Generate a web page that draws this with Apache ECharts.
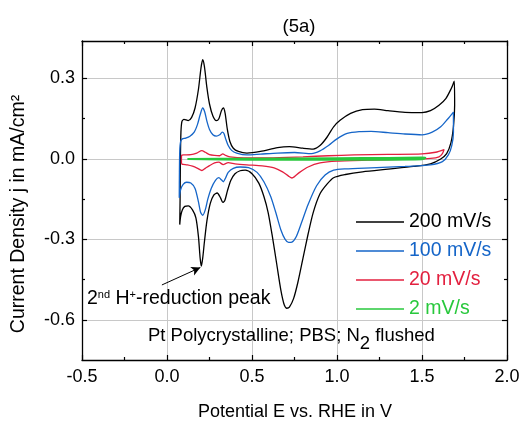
<!DOCTYPE html>
<html>
<head>
<meta charset="utf-8">
<script src="https://cdn.jsdelivr.net/npm/echarts@6/dist/echarts.min.js"></script>
<style>html,body{margin:0;padding:0;background:#fff}#c{width:529px;height:424px}</style>
</head>
<body>
<div id="c"></div>
<script>
// ---- data ----
const seriesNames = ['200 mV/s', '100 mV/s', '20 mV/s', '2 mV/s'];
const xTicks = [-0.5, 0.0, 0.5, 1.0, 1.5, 2.0];
const yTicks = [-0.6, -0.3, 0.0, 0.3];

// 200 mV/s (anodic then cathodic)
const E_200 = [0.075,0.077,0.079,0.082,0.088,0.10,0.125,0.145,0.165,0.185,0.20,0.21,0.22,0.235,0.25,0.27,0.29,0.305,0.32,0.332,0.342,0.355,0.37,0.39,0.42,0.47,0.55,0.65,0.72,0.80,0.86,0.90,0.94,0.98,1.02,1.08,1.15,1.22,1.30,1.40,1.50,1.55,1.60,1.64,1.67,1.69,
  1.692,1.685,1.67,1.645,1.61,1.55,1.45,1.30,1.15,1.05,0.98,0.94,0.90,0.86,0.83,0.80,0.77,0.745,0.72,0.705,0.69,0.67,0.645,0.62,0.595,0.57,0.54,0.50,0.46,0.43,0.40,0.375,0.355,0.34,0.328,0.315,0.295,0.275,0.255,0.235,0.22,0.21,0.202,0.195,0.185,0.17,0.15,0.125,0.105,0.09,0.08,0.075];
const j_200 = [-0.245,-0.15,0.0,0.10,0.14,0.148,0.143,0.155,0.19,0.26,0.34,0.37,0.345,0.265,0.205,0.16,0.143,0.15,0.18,0.19,0.17,0.11,0.065,0.04,0.028,0.022,0.028,0.042,0.046,0.04,0.037,0.05,0.08,0.12,0.145,0.17,0.184,0.186,0.18,0.174,0.173,0.18,0.20,0.225,0.26,0.29,
  0.20,0.12,0.06,0.02,0.0,-0.018,-0.028,-0.038,-0.048,-0.058,-0.07,-0.095,-0.13,-0.20,-0.28,-0.37,-0.46,-0.52,-0.553,-0.557,-0.545,-0.49,-0.39,-0.29,-0.20,-0.14,-0.09,-0.055,-0.042,-0.044,-0.055,-0.08,-0.12,-0.155,-0.162,-0.145,-0.127,-0.135,-0.165,-0.23,-0.31,-0.37,-0.40,-0.37,-0.29,-0.22,-0.19,-0.175,-0.177,-0.19,-0.215,-0.245];

// 100 mV/s
const E_100 = [0.072,0.073,0.075,0.08,0.09,0.11,0.135,0.16,0.18,0.195,0.21,0.222,0.235,0.25,0.27,0.29,0.31,0.325,0.335,0.345,0.36,0.38,0.41,0.47,0.55,0.65,0.75,0.85,0.90,0.95,1.0,1.06,1.13,1.2,1.3,1.4,1.5,1.56,1.61,1.65,1.685,
  1.685,1.675,1.655,1.62,1.55,1.4,1.2,1.05,0.98,0.93,0.88,0.83,0.79,0.76,0.735,0.715,0.695,0.67,0.64,0.61,0.57,0.53,0.48,0.43,0.39,0.36,0.345,0.332,0.32,0.305,0.285,0.26,0.24,0.225,0.21,0.198,0.185,0.165,0.14,0.115,0.095,0.08,0.072];
const j_100 = [-0.145,-0.05,0.03,0.065,0.075,0.078,0.085,0.10,0.13,0.165,0.19,0.175,0.14,0.11,0.09,0.085,0.09,0.10,0.095,0.075,0.05,0.032,0.022,0.015,0.018,0.022,0.024,0.02,0.03,0.05,0.075,0.095,0.102,0.103,0.098,0.093,0.09,0.10,0.12,0.148,0.175,
  0.10,0.05,0.015,-0.01,-0.022,-0.028,-0.033,-0.037,-0.042,-0.06,-0.10,-0.17,-0.24,-0.29,-0.31,-0.311,-0.30,-0.265,-0.20,-0.14,-0.085,-0.05,-0.032,-0.03,-0.035,-0.05,-0.07,-0.085,-0.078,-0.07,-0.08,-0.11,-0.15,-0.19,-0.21,-0.20,-0.16,-0.11,-0.09,-0.087,-0.095,-0.115,-0.145];

// 20 mV/s
const E_20 = [0.085,0.085,0.086,0.10,0.14,0.175,0.205,0.225,0.25,0.28,0.31,0.328,0.345,0.37,0.45,0.60,0.80,0.95,1.10,1.30,1.50,1.58,1.63,
  1.62,1.60,1.55,1.45,1.20,1.00,0.90,0.83,0.78,0.75,0.735,0.715,0.68,0.63,0.56,0.47,0.40,0.36,0.33,0.305,0.28,0.25,0.225,0.205,0.18,0.15,0.12,0.095,0.085];
const j_20 = [-0.018,0.0,0.014,0.015,0.016,0.022,0.031,0.025,0.016,0.013,0.012,0.019,0.013,0.008,0.004,0.004,0.008,0.012,0.015,0.017,0.019,0.025,0.035,
  0.02,0.008,0.002,-0.001,-0.004,-0.008,-0.015,-0.03,-0.05,-0.066,-0.071,-0.064,-0.048,-0.033,-0.026,-0.022,-0.018,-0.014,-0.021,-0.012,-0.015,-0.025,-0.035,-0.043,-0.035,-0.027,-0.022,-0.02,-0.018];

// 2 mV/s
const E_2 = [0.12,0.5,1.0,1.3,1.5,1.52,1.5,1.0,0.5,0.12];
const j_2 = [0.0,0.001,0.003,0.004,0.005,0.004,-0.001,-0.003,-0.003,0.0];

// ---- build ----
const FONT = 'Liberation Sans, Arial, sans-serif';
const colors = ['#000000', '#1565c8', '#e3203f', '#28c83c'];
const zip = (a, b) => a.map((v, i) => [v, b[i]]);
const loops = [zip(E_200, j_200), zip(E_100, j_100), zip(E_20, j_20), zip(E_2, j_2)];

const chart = echarts.init(document.getElementById('c'), null, {renderer: 'canvas'});
const fmtY = v => (Math.abs(v) < 1e-9 ? '0.0' : v.toFixed(1));

const series = loops.map((d, i) => ({
  name: seriesNames[i],
  type: 'line',
  data: d,
  symbol: 'none',
  smooth: 0.25,
  xAxisIndex: 0,
  yAxisIndex: 0,
  lineStyle: {color: colors[i], width: i === 3 ? 2 : 1.3},
  itemStyle: {color: colors[i]},
  z: 3 + i,
  animation: false
}));
series[0].markLine = {
  silent: true,
  symbol: ['none', 'arrow'],
  symbolSize: [7, 9],
  label: {show: false},
  lineStyle: {color: '#000', width: 1, type: 'solid'},
  data: [[{coord: [-0.03, -0.47]}, {coord: [0.196, -0.405]}]]
};

const yMin = -0.75, yMax = 0.44;
const yMinor = [-0.45, -0.15, 0.15];
const baseAxisLine = {show: true, onZero: false, lineStyle: {color: '#000', width: 1.3}};
const noLine = {show: false, onZero: false};

const option = {
  animation: false,
  backgroundColor: '#fff',
  title: {
    text: '(5a)', left: 294, top: 12, textAlign: 'center',
    textStyle: {fontFamily: FONT, fontSize: 18.5, fontWeight: 'normal', color: '#000'}
  },
  grid: {left: 82, right: 22, top: 41, bottom: 64, containLabel: false},
  legend: {
    orient: 'vertical', left: 351, top: 207, padding: 5,
    icon: 'rect', itemWidth: 48, itemHeight: 1.3, itemGap: 9,
    textStyle: {fontFamily: FONT, fontSize: 19.5, lineHeight: 18},
    data: seriesNames.map((n, i) => ({name: n, textStyle: {color: colors[i]}}))
  },
  xAxis: [
    {
      type: 'value', position: 'bottom', min: xTicks[0], max: xTicks[xTicks.length - 1], interval: 0.5,
      axisLine: baseAxisLine,
      axisTick: {show: true, inside: true, length: 5, lineStyle: {color: '#000', width: 1.2}},
      minorTick: {show: true, splitNumber: 2, length: 3, lineStyle: {color: '#000', width: 1.2}},
      axisLabel: {fontFamily: FONT, fontSize: 18, color: '#000', margin: 8, formatter: v => v.toFixed(1)},
      splitLine: {show: true, lineStyle: {color: '#c8c8c8', width: 1}}
    },
    {
      type: 'value', position: 'top', min: xTicks[0], max: xTicks[xTicks.length - 1], interval: 0.5,
      axisLine: baseAxisLine,
      axisTick: {show: true, inside: true, length: 5, lineStyle: {color: '#000', width: 1.2}},
      minorTick: {show: true, splitNumber: 2, length: 3, lineStyle: {color: '#000', width: 1.2}},
      axisLabel: {show: false}, splitLine: {show: false}
    }
  ],
  yAxis: [
    {
      type: 'value', position: 'left', min: yMin, max: yMax,
      axisLine: baseAxisLine,
      axisTick: {show: true, inside: true, length: 5, customValues: yTicks, lineStyle: {color: '#000', width: 1.2}},
      axisLabel: {fontFamily: FONT, fontSize: 18, color: '#000', margin: 7, customValues: yTicks, formatter: fmtY},
      splitLine: {show: true, lineStyle: {color: '#c8c8c8', width: 1}}
    },
    {
      type: 'value', position: 'left', min: yMin, max: yMax,
      axisLine: noLine,
      axisTick: {show: true, inside: true, length: 3, customValues: yMinor, lineStyle: {color: '#000', width: 1.2}},
      axisLabel: {show: false}, splitLine: {show: false}
    },
    {
      type: 'value', position: 'right', min: yMin, max: yMax,
      axisLine: baseAxisLine,
      axisTick: {show: true, inside: true, length: 5, customValues: yTicks, lineStyle: {color: '#000', width: 1.2}},
      axisLabel: {show: false}, splitLine: {show: false}
    },
    {
      type: 'value', position: 'right', min: yMin, max: yMax,
      axisLine: noLine,
      axisTick: {show: true, inside: true, length: 3, customValues: yMinor, lineStyle: {color: '#000', width: 1.2}},
      axisLabel: {show: false}, splitLine: {show: false}
    }
  ],
  graphic: [
    {
      type: 'text', x: 295, y: 412, z: 20,
      style: {text: 'Potential E vs. RHE in V', font: '18px ' + FONT, fill: '#000', align: 'center', verticalAlign: 'middle'}
    },
    {
      type: 'text', x: 19, y: 214, rotation: Math.PI / 2, z: 20,
      style: {text: 'Current Density j in mA/cm²', font: '19.5px ' + FONT, fill: '#000', align: 'center', verticalAlign: 'middle'}
    },
    {
      type: 'text', left: 87, top: 289, z: 20,
      style: {
        text: '2{sup|nd} H{sup|+}-reduction peak',
        font: '19.5px ' + FONT, fill: '#000',
        rich: {sup: {fontSize: 11, fontFamily: FONT, verticalAlign: 'top', lineHeight: 19, padding: [0, 0, 8, 0]}}
      }
    },
    {
      type: 'text', left: 148, top: 326, z: 20,
      style: {
        text: 'Pt Polycrystalline; PBS; N{sub|2} flushed',
        font: '18.5px ' + FONT, fill: '#000',
        rich: {sub: {fontSize: 18.5, fontFamily: FONT, padding: [16, 0, 0, 0]}}
      }
    }
  ],
  series: series
};
chart.setOption(option);
</script>
</body>
</html>
